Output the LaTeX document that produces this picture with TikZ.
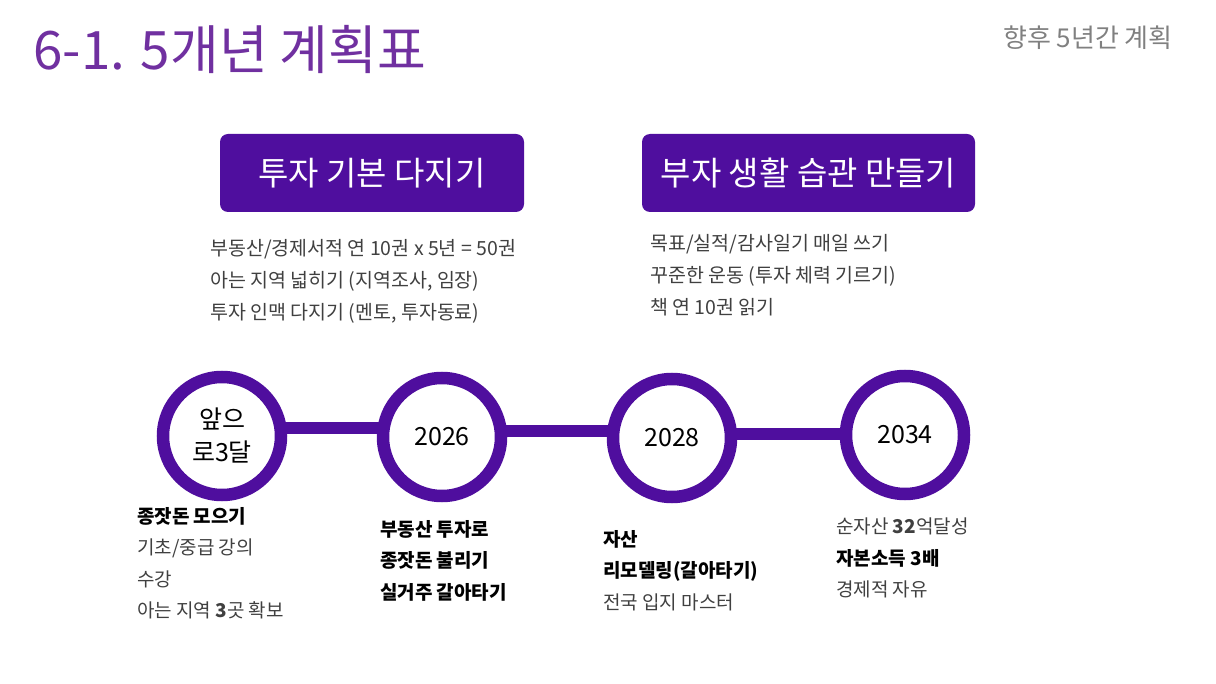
\documentclass[tikz,border=0pt]{standalone}
\usepackage{fontspec}
\setmainfont{Noto Sans CJK KR}
\usepackage{tikz}
\usetikzlibrary{positioning,calc}
\definecolor{planpurple}{RGB}{79,14,158}
\definecolor{titlepurple}{RGB}{112,48,160}
\definecolor{subgray}{RGB}{128,128,128}
\definecolor{notegray}{RGB}{64,64,64}
\tikzset{%
	headbox/.style = {draw=none, fill=planpurple, rectangle, rounded corners=8pt, minimum height=78pt, text=white, font=\fontsize{33}{38}\selectfont, text centered},
	ring/.style    = {circle, draw=planpurple, fill=white, line width=12.5pt, minimum size=118pt, inner sep=0pt, font=\fontsize{25}{33}\selectfont, align=center},
	link/.style    = {planpurple, line width=12pt},
	note/.style    = {anchor=north west, inner sep=0pt, align=left, text=notegray, font=\fontsize{19}{31.5}\selectfont},
}
\begin{document}
\begin{tikzpicture}[x=1pt,y=-1pt]
	\useasboundingbox (0,0) rectangle (1216,684);
	
	\node[anchor=base west, inner sep=0pt, text=titlepurple, font=\fontsize{53}{58}\selectfont] (title) at (33,70) {6-1. 5개년 계획표};
	\node[anchor=base east, inner sep=0pt, text=subgray, font=\fontsize{26}{30}\selectfont] (subtitle) at (1173,48) {향후 5년간 계획};
	
	\node[headbox, minimum width=304pt] (basics) at (372,173) {투자 기본 다지기};
	\node[headbox, minimum width=333pt] (habits) at (808.5,173) {부자 생활 습관 만들기};
	
	\node[note, font=\fontsize{19.5}{32}\selectfont] (basicsnote) at (210,239) {부동산/경제서적 연 10권 x 5년 = 50권\\아는 지역 넓히기 (지역조사, 임장)\\투자 인맥 다지기 (멘토, 투자동료)};
	\node[note, font=\fontsize{19.5}{32}\selectfont] (habitsnote) at (650,234) {목표/실적/감사일기 매일 쓰기\\꾸준한 운동 (투자 체력 기르기)\\책 연 10권 읽기};
	
	% timeline
	\coordinate (c1) at (222,436);
	\coordinate (c2) at (442,437);
	\coordinate (c3) at (672,438);
	\coordinate (c4) at (905,435);
	\draw[link] (c1 |- 0,428) -- (c2 |- 0,428);
	\draw[link] (c2 |- 0,431) -- (c3 |- 0,431);
	\draw[link] (c3 |- 0,434) -- (c4 |- 0,434);
	\node[ring] (now) at (c1) {앞으\\로3달};
	\node[ring] (y2026) at (c2) {2026};
	\node[ring] (y2028) at (c3) {2028};
	\node[ring] (y2034) at (c4) {2034};
	
	\node[note] (nownote) at (137,507) {\textcolor{black}{\bfseries 종잣돈 모으기}\\기초/중급 강의\\수강\\아는 지역 \textbf{3}곳 확보};
	\node[note, text=black, font=\fontsize{19}{31.5}\selectfont\bfseries] (note2026) at (380,520) {부동산 투자로\\종잣돈 불리기\\실거주 갈아타기};
	\node[note] (note2028) at (603,530) {\textcolor{black}{\bfseries 자산}\\\textcolor{black}{\bfseries 리모델링(갈아타기)}\\전국 입지 마스터};
	\node[note] (note2034) at (836,518) {순자산 \textbf{32}억달성\\\textcolor{black}{\bfseries 자본소득 3배}\\경제적 자유};
\end{tikzpicture}
\end{document}
